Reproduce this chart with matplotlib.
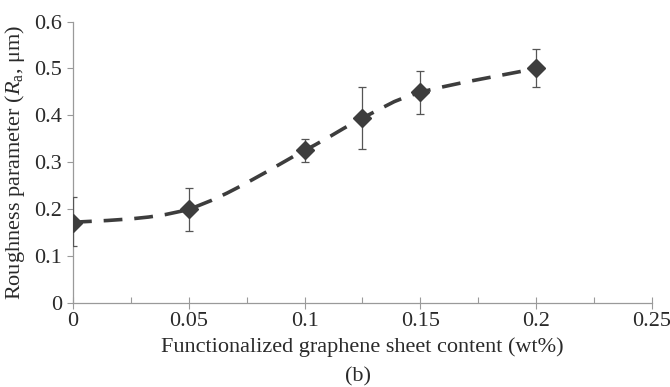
import numpy as np
import matplotlib.pyplot as plt
from matplotlib.path import Path
from matplotlib.patches import PathPatch

plt.rcParams["font.family"] = ["Liberation Serif", "DejaVu Serif"]
plt.rcParams["mathtext.fontset"] = "custom"
plt.rcParams["mathtext.rm"] = "Liberation Serif"
plt.rcParams["mathtext.it"] = "Liberation Serif:italic"

content = [0, 0.05, 0.1, 0.125, 0.15, 0.2]
roughness = [0.171, 0.200, 0.325, 0.394, 0.449, 0.500]
err_top = [0.225, 0.244, 0.349, 0.460, 0.495, 0.542]
err_bottom = [0.120, 0.153, 0.301, 0.328, 0.403, 0.460]

x = np.array(content)
y = np.array(roughness)
yerr = [y - np.array(err_bottom), np.array(err_top) - y]

fig = plt.figure(figsize=(6.7, 3.87), dpi=100)
ax = fig.add_axes([0.109, 0.218, 0.864, 0.726])

# smoothed connecting line (Catmull-Rom style bezier, like a spreadsheet "smoothed line")
pts = np.column_stack([x, y])
verts = [pts[0]]
codes = [Path.MOVETO]
for i in range(len(pts) - 1):
    p0 = pts[i - 1] if i > 0 else pts[i]
    p1 = pts[i]
    p2 = pts[i + 1]
    p3 = pts[i + 2] if i + 2 < len(pts) else pts[i + 1]
    c1 = p1 + (p2 - p0) / 6
    c2 = p2 - (p3 - p1) / 6
    verts += [c1, c2, p2]
    codes += [Path.CURVE4] * 3
curve = PathPatch(Path(verts, codes), facecolor="none", edgecolor="#3d3d3d",
                  lw=2.6, linestyle=(0, (5.2, 3.3)), capstyle="butt", zorder=2)
ax.add_patch(curve)

ax.errorbar(x, y, yerr=yerr, fmt="none", ecolor="#555555", elinewidth=0.9,
            capsize=3, capthick=0.9, zorder=3)
ax.plot(x, y, linestyle="none", marker="D", markersize=9, color="#3d3d3d", zorder=4)

ax.set_xlim(0, 0.25)
ax.set_ylim(0, 0.6)
ax.set_xticks([0, 0.05, 0.1, 0.15, 0.2, 0.25])
ax.set_xticklabels(["0", "0.05", "0.1", "0.15", "0.2", "0.25"])
ax.set_xticks([0.025, 0.075, 0.125, 0.175, 0.225], minor=True)
ax.set_yticks([0, 0.1, 0.2, 0.3, 0.4, 0.5, 0.6])
ax.set_yticklabels(["0", "0.1", "0.2", "0.3", "0.4", "0.5", "0.6"])

for s in ["top", "right"]:
    ax.spines[s].set_visible(False)
for s in ["left", "bottom"]:
    ax.spines[s].set_color("#9a9a9a")
    ax.spines[s].set_linewidth(0.9)

ax.tick_params(axis="x", which="major", direction="inout", length=8, width=0.8,
               color="#9a9a9a", labelsize=16, pad=3, labelcolor="#2a2a2a")
ax.tick_params(axis="x", which="minor", direction="in", length=4, width=0.8,
               color="#9a9a9a")
ax.tick_params(axis="y", which="major", direction="out", length=4, width=0.8,
               color="#9a9a9a", labelsize=16, pad=4, labelcolor="#2a2a2a")

ax.set_xlabel("Functionalized graphene sheet content (wt%)", fontsize=16,
              color="#2a2a2a", labelpad=4)
ax.set_ylabel(r"Roughness parameter ($R_\mathrm{a}$, μm)", fontsize=16,
              color="#2a2a2a", labelpad=5)
fig.text(0.535, 0.025, "(b)", ha="center", va="center", fontsize=16, color="#2a2a2a")

fig.savefig("out.png", dpi=100)
